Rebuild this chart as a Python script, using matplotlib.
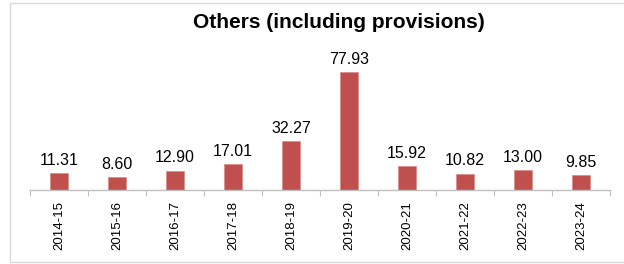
import matplotlib.pyplot as plt
from matplotlib.patches import Rectangle

years = ['2014-15', '2015-16', '2016-17', '2017-18', '2018-19',
         '2019-20', '2020-21', '2021-22', '2022-23', '2023-24']
values = [11.31, 8.60, 12.90, 17.01, 32.27, 77.93, 15.92, 10.82, 13.00, 9.85]

plt.rcParams['font.family'] = ['Liberation Sans', 'DejaVu Sans']

fig = plt.figure(figsize=(6.24, 2.64), dpi=100)
# axes: x 30..610 px, baseline at y=190 px
ax = fig.add_axes([30 / 624, (264 - 190) / 264, 580 / 624, 150 / 264])

pos = list(range(len(years)))
ax.bar(pos, values, width=0.31, color='#C0504D', edgecolor='#D98A88', linewidth=0.5)
for x, v in zip(pos, values):
    ax.text(x, v + 3.5, f'{v:.2f}', ha='center', va='bottom', fontsize=11.5, color='black')

ax.set_xlim(-0.5, len(years) - 0.5)
ax.set_ylim(0, 150 / 1.51)

ax.set_xticks([p - 0.5 for p in range(len(years) + 1)])
ax.set_xticklabels([])
ax.set_xticks(pos, minor=True)
ax.set_xticklabels(years, minor=True, rotation=90, fontsize=9.5)
ax.tick_params(axis='x', which='major', length=4, color='#BFBFBF', direction='out')
ax.tick_params(axis='x', which='minor', length=0, pad=8)
ax.set_yticks([])

for s in ['top', 'right', 'left']:
    ax.spines[s].set_visible(False)
ax.spines['bottom'].set_color('#BFBFBF')
ax.spines['bottom'].set_linewidth(1)

fig.text(339 / 624, 1 - 22 / 264, 'Others (including provisions)', ha='center', va='center',
         fontsize=15, fontweight='bold')

fig.patches.append(Rectangle((10 / 624, 2 / 264), 620 / 624, 259 / 264,
                             transform=fig.transFigure, fill=False,
                             edgecolor='#D9D9D9', linewidth=1))

fig.savefig('out.png', dpi=100)
